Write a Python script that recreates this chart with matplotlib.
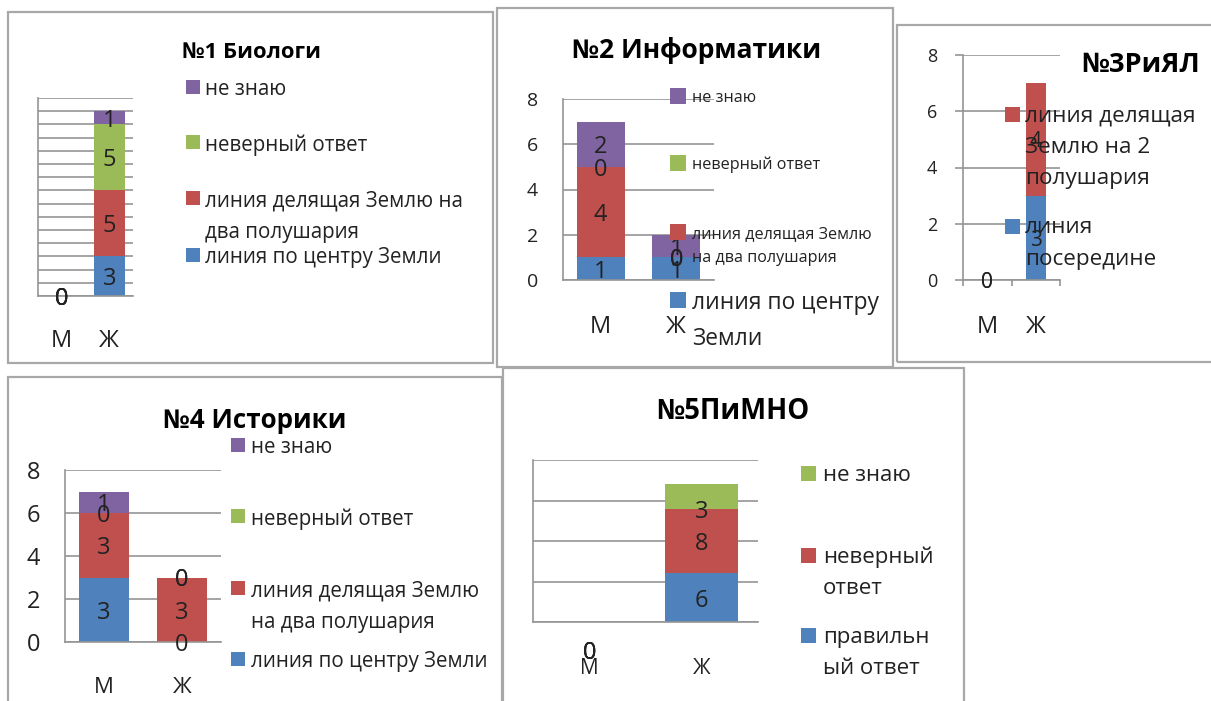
import matplotlib
matplotlib.use("Agg")
import matplotlib.pyplot as plt
from matplotlib.patches import Rectangle

plt.rcParams['font.family'] = ['Open Sans', 'DejaVu Sans']

# ---- data ----
genders = ['М', 'Ж']

bio_title = '№1 Биологи'
bio_labels = ['линия по центру Земли', 'линия делящая Землю на\nдва полушария', 'неверный ответ', 'не знаю']
bio_m = [0, 0, 0, 0]
bio_f = [3, 5, 5, 1]

inf_title = '№2 Информатики'
inf_labels = ['линия по центру\nЗемли', 'линия делящая Землю\nна два полушария', 'неверный ответ', 'не знаю']
inf_m = [1, 4, 0, 2]
inf_f = [1, 0, 0, 1]

riyal_title = '№3РиЯЛ'
riyal_labels = ['линия\nпосередине', 'линия делящая\nЗемлю на 2\nполушария']
riyal_m = [0, 0]
riyal_f = [3, 4]

hist_title = '№4 Историки'
hist_labels = ['линия по центру Земли', 'линия делящая Землю\nна два полушария', 'неверный ответ', 'не знаю']
hist_m = [3, 3, 0, 1]
hist_f = [0, 3, 0, 0]

pimno_title = '№5ПиМНО'
pimno_labels = ['правильн\nый ответ', 'неверный\nответ', 'не знаю']
pimno_m = [0, 0, 0]
pimno_f = [6, 8, 3]

BLUE, RED, GREEN, PURPLE = '#4F81BD', '#C0504D', '#9BBB59', '#8064A2'
GRID = '#959595'
FRAME = '#A8A8A8'
TXT = '#222222'

W, H = 1211, 701
fig = plt.figure(figsize=(W / 100, H / 100), dpi=100)


def px_box(x0, y0, x1, y1):
    return [x0 / W, 1 - y1 / H, (x1 - x0) / W, (y1 - y0) / H]


def add_frame(x0, y0, x1, y1):
    fig.add_artist(Rectangle((x0 / W, 1 - y1 / H), (x1 - x0) / W, (y1 - y0) / H,
                             transform=fig.transFigure, fill=False, ec=FRAME, lw=1.6))


def add_title(text, x, y, fs):
    fig.text(x / W, 1 - y / H, text, fontsize=fs, fontweight='bold', color='black',
             ha='center', va='center_baseline')


def add_legend(items, x, sq, gap=5, ls=1.65):
    # items: (label, color, y of first line centre in px, fontsize)
    for label, color, y, fs in items:
        em = fs * 100 / 72
        fig.add_artist(Rectangle((x / W, 1 - (y + sq / 2) / H), sq / W, sq / H,
                                 transform=fig.transFigure, fc=color, ec='none'))
        fig.text((x + sq + gap) / W, 1 - (y - 0.38 * em) / H, label, fontsize=fs,
                 color=TXT, ha='left', va='top', linespacing=ls)


def stacked(box, m_vals, f_vals, colors, width, ymax, yticks, show_ylabels,
            lab_fs, cat_fs, tick_fs=15, ypad=18, xpad=25, label_frac=None, zero_drop=0):
    ax = fig.add_axes(px_box(*box))
    bottoms = [0, 0]
    for k, c in enumerate(colors):
        vals = [m_vals[k], f_vals[k]]
        ax.bar([0, 1], vals, width, bottom=bottoms, color=c, zorder=2)
        frac = 0.5 if label_frac is None else label_frac[k]
        for i in range(2):
            drop = zero_drop if (vals[i] == 0 and bottoms[i] == 0) else 0
            ax.annotate(str(vals[i]), (i, bottoms[i] + vals[i] * frac),
                        xytext=(0, -drop * 0.72), textcoords='offset points',
                        ha='center', va='center_baseline', fontsize=lab_fs,
                        color=TXT, zorder=3)
        bottoms = [b + v for b, v in zip(bottoms, vals)]
    ax.set_xlim(-0.5, 1.5)
    ax.set_ylim(0, ymax)
    ax.set_yticks(yticks)
    ax.yaxis.grid(True, color=GRID, lw=1.2)
    ax.set_axisbelow(True)
    if show_ylabels:
        ax.set_yticklabels([str(t) for t in yticks], fontsize=tick_fs, color=TXT)
    else:
        ax.set_yticklabels([])
    ax.set_xticks([0, 1], genders, fontsize=cat_fs, color=TXT)
    ax.tick_params(axis='x', length=0, pad=xpad)
    ax.tick_params(axis='y', length=0, pad=ypad)
    for s in ['top', 'right']:
        ax.spines[s].set_visible(False)
    for s in ['left', 'bottom']:
        ax.spines[s].set_color(GRID)
        ax.spines[s].set_linewidth(1.2)
    ax.patch.set_alpha(0)
    return ax


# ---- №1 Биологи ----
add_frame(8, 12, 493, 363)
add_title(bio_title, 251, 50, 15.8)
stacked((38, 98, 133, 296), bio_m, bio_f, [BLUE, RED, GREEN, PURPLE], 0.65,
        15, range(16), False, lab_fs=17, cat_fs=17, xpad=24)
add_legend([(bio_labels[3], PURPLE, 87, 14.8), (bio_labels[2], GREEN, 142, 14.8),
            (bio_labels[1], RED, 198, 14.8), (bio_labels[0], BLUE, 255, 14.8)], 186, 14)

# ---- №2 Информатики ----
add_frame(497, 8, 893, 367)
add_title(inf_title, 697, 48, 19)
stacked((563, 99, 714, 280), inf_m, inf_f, [BLUE, RED, GREEN, PURPLE], 0.64,
        8, [0, 2, 4, 6, 8], True, lab_fs=17, cat_fs=17, tick_fs=14)
add_legend([(inf_labels[3], PURPLE, 96, 11.6), (inf_labels[2], GREEN, 163, 11.6),
            (inf_labels[1], RED, 232, 11.6), (inf_labels[0], BLUE, 300, 16.4)], 670, 16, gap=6)

# ---- №3РиЯЛ ----
add_frame(897, 25, 1216, 362)
add_title(riyal_title, 1141, 62, 19.6)
ax3 = stacked((963, 55, 1060, 280), riyal_m, riyal_f, [BLUE, RED], 0.41,
              8, [0, 2, 4, 6, 8], True, lab_fs=15, cat_fs=17, tick_fs=13)
ax3.tick_params(axis='y', length=8 * 0.72, width=1.2, color=GRID, direction='out', pad=13)
ax3.set_xticks([-0.5, 0.5, 1.5], minor=True)
ax3.tick_params(axis='x', which='minor', length=6 * 0.72, width=1.2, color=GRID, direction='out')
add_legend([(riyal_labels[1], RED, 114, 16.2), (riyal_labels[0], BLUE, 226, 16.2)], 1005, 15)

# ---- №4 Историки ----
add_frame(8, 377, 502, 712)
add_title(hist_title, 255, 418, 18.7)
stacked((65, 470, 221, 642), hist_m, hist_f, [BLUE, RED, GREEN, PURPLE], 0.65,
        8, [0, 2, 4, 6, 8], True, lab_fs=17, cat_fs=16, tick_fs=17)
add_legend([(hist_labels[3], PURPLE, 445, 14.8), (hist_labels[2], GREEN, 516, 14.8),
            (hist_labels[1], RED, 588, 14.8), (hist_labels[0], BLUE, 659, 14.8)], 231, 14, gap=6)

# ---- №5ПиМНО ----
add_frame(503, 368, 964, 712)
add_title(pimno_title, 733, 408, 19.8)
stacked((533, 460, 758, 622), pimno_m, pimno_f, [BLUE, RED, GREEN], 0.65,
        20, [0, 5, 10, 15, 20], False, lab_fs=17, cat_fs=15, xpad=26,
        label_frac=[0.5, 0.5, 0.0], zero_drop=28)
add_legend([(pimno_labels[2], GREEN, 473, 16), (pimno_labels[1], RED, 555, 16),
            (pimno_labels[0], BLUE, 635, 16)], 801, 15, gap=7)

fig.savefig('out.png', dpi=100)
